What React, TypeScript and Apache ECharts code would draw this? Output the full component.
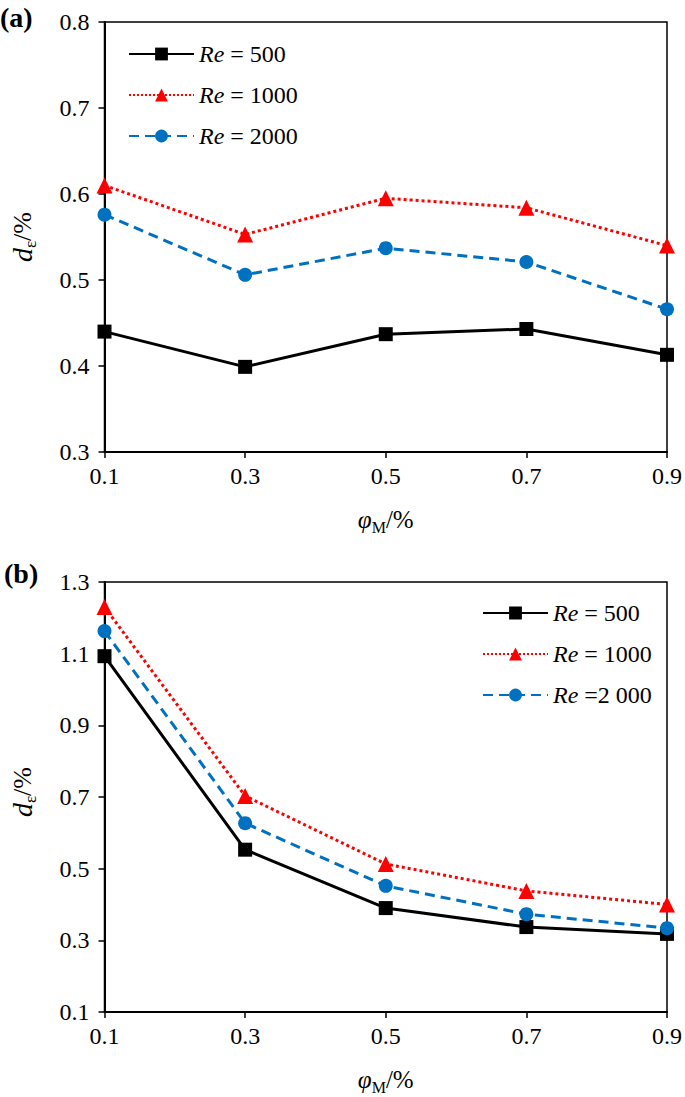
import React, { useEffect, useRef } from 'react';
import * as echarts from 'echarts';

const phi = [0.1, 0.3, 0.5, 0.7, 0.9];
const aRe500 = [0.44, 0.399, 0.437, 0.443, 0.413];
const aRe1000 = [0.61, 0.553, 0.595, 0.584, 0.54];
const aRe2000 = [0.576, 0.506, 0.537, 0.521, 0.466];
const bRe500 = [1.093, 0.553, 0.39, 0.337, 0.318];
const bRe1000 = [1.23, 0.703, 0.513, 0.438, 0.4];
const bRe2000 = [1.163, 0.627, 0.452, 0.373, 0.334];
const legendA = ['Re = 500', 'Re = 1000', 'Re = 2000'];
const legendB = ['Re = 500', 'Re = 1000', 'Re =2 000'];

const FONT = 'Liberation Serif';

const styles = [
  { color: '#000000', type: 'solid', symbol: 'rect', size: 14 },
  { color: '#ff0000', type: 'dotted', symbol: 'triangle', size: 16 },
  { color: '#0070c0', type: [10, 6], symbol: 'circle', size: 14 },
];

function mkSeries(name: string, vals: number[], s: any, idx: number) {
  return {
    type: 'line',
    name,
    xAxisIndex: idx,
    yAxisIndex: idx,
    data: phi.map((x, i) => [x, vals[i]]),
    symbol: s.symbol,
    symbolSize: s.size,
    itemStyle: { color: s.color },
    lineStyle: { color: s.color, width: 3, type: s.type },
    z: 3,
  };
}

const richX = {
  i: { fontFamily: FONT, fontSize: 25, fontStyle: 'italic', color: '#000' },
  s: { fontFamily: FONT, fontSize: 16, color: '#000', padding: [15, 0, 0, 0] },
  n: { fontFamily: FONT, fontSize: 25, color: '#000' },
};

const richY = {
  i: { fontFamily: FONT, fontSize: 28, fontStyle: 'italic', color: '#000' },
  s: { fontFamily: FONT, fontSize: 17, color: '#000', padding: [16, 0, 0, 0] },
  n: { fontFamily: FONT, fontSize: 26, color: '#000' },
};

function xAx(idx: number) {
  return {
    type: 'value',
    gridIndex: idx,
    min: 0.1,
    max: 0.9,
    interval: 0.2,
    name: '{i|φ}{s|M}{n|/%}',
    nameLocation: 'middle',
    nameGap: 52,
    nameTextStyle: { rich: richX },
    axisLine: { lineStyle: { color: '#000', width: 2 } },
    axisTick: { show: true, inside: false, length: 6, lineStyle: { color: '#000', width: 1.5 } },
    axisLabel: { fontFamily: FONT, fontSize: 24, color: '#000', margin: 12, formatter: (v: number) => v.toFixed(1) },
    splitLine: { show: false },
  };
}

function yAx(idx: number, min: number, max: number, interval: number, pad: number) {
  return {
    type: 'value',
    gridIndex: idx,
    min,
    max,
    interval,
    name: '{i|d}{s|ε}{n|/%}',
    nameLocation: 'middle',
    nameGap: 66,
    nameTextStyle: { rich: richY, padding: [0, 0, 0, pad] },
    axisLine: { show: true, lineStyle: { color: '#000', width: 2 } },
    axisTick: { show: true, inside: false, length: 6, lineStyle: { color: '#000', width: 1.5 } },
    axisLabel: { fontFamily: FONT, fontSize: 24, color: '#000', margin: 15, formatter: (v: number) => v.toFixed(1) },
    splitLine: { show: false },
  };
}

const legendRich = {
  i: { fontFamily: FONT, fontSize: 24, fontStyle: 'italic', color: '#000', lineHeight: 24 },
  n: { fontFamily: FONT, fontSize: 24, color: '#000', lineHeight: 24 },
};

function legend(data: string[], pos: any) {
  return {
    data,
    orient: 'vertical',
    padding: 0,
    itemWidth: 65,
    itemHeight: 16,
    itemGap: 17,
    ...pos,
    formatter: (name: string) => '{i|Re}{n|' + name.slice(2) + '}',
    textStyle: { rich: legendRich, fontFamily: FONT, fontSize: 24 },
  };
}

export default function App() {
  const ref = useRef<HTMLDivElement>(null);
  useEffect(() => {
    const chart = echarts.init(ref.current!, null, { renderer: 'svg' });
    chart.setOption({
      animation: false,
      backgroundColor: '#fff',
      textStyle: { fontFamily: FONT },
      grid: [
        { left: 101, top: 22, width: 569, height: 430, show: true, borderColor: '#000', borderWidth: 1.5 },
        { left: 101, top: 582, width: 569, height: 430, show: true, borderColor: '#000', borderWidth: 1.5 },
      ],
      xAxis: [xAx(0), xAx(1)],
      yAxis: [yAx(0, 0.3, 0.8, 0.1, 0), yAx(1, 0.1, 1.3, 0.2, 10)],
      legend: [
        legend(legendA, { left: 128, top: 42 }),
        legend(legendB, { left: 482, top: 601 }),
      ],
      graphic: [
        { type: 'text', left: 0, top: 3, style: { text: '(a)', fontFamily: FONT, fontSize: 28, fontWeight: 'bold', fill: '#000' } },
        { type: 'text', left: 4, top: 559, style: { text: '(b)', fontFamily: FONT, fontSize: 28, fontWeight: 'bold', fill: '#000' } },
      ],
      series: [
        mkSeries(legendA[0], aRe500, styles[0], 0),
        mkSeries(legendA[1], aRe1000, styles[1], 0),
        mkSeries(legendA[2], aRe2000, styles[2], 0),
        mkSeries(legendB[0], bRe500, styles[0], 1),
        mkSeries(legendB[1], bRe1000, styles[1], 1),
        mkSeries(legendB[2], bRe2000, styles[2], 1),
      ],
    });
    return () => chart.dispose();
  }, []);
  return <div ref={ref} style={{ position: 'fixed', left: 0, top: 0, width: 685, height: 1097 }} />;
}
